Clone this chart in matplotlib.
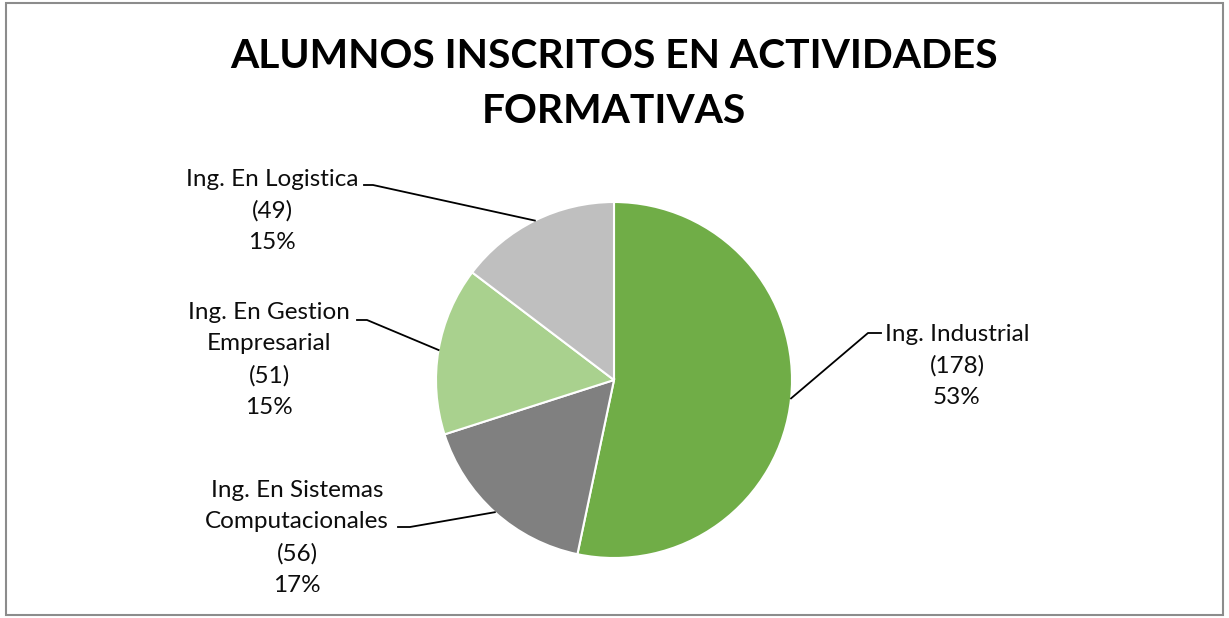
import matplotlib.pyplot as plt
import numpy as np
from matplotlib.patches import Rectangle

carreras = ["Ing. Industrial", "Ing. En Sistemas\nComputacionales",
            "Ing. En Gestion\nEmpresarial", "Ing. En Logistica"]
alumnos = [178, 56, 51, 49]
colores = ["#70AD47", "#808080", "#A9D18E", "#BFBFBF"]

W, H = 1229, 618
CX, CY, R = 614, 380, 178

plt.rcParams["font.family"] = ["Lato", "DejaVu Sans"]

fig = plt.figure(figsize=(W / 100, H / 100), dpi=100)
fig.patch.set_facecolor("white")
fig.add_artist(Rectangle((6 / W, 3 / H), 1217 / W, 612 / H, transform=fig.transFigure,
                         fill=False, edgecolor="#8c8c8c", linewidth=1.5))

ax = fig.add_axes([(CX - R) / W, (H - CY - R) / H, 2 * R / W, 2 * R / H])
wedges, _ = ax.pie(alumnos, colors=colores, startangle=90, counterclock=False, radius=1,
                   wedgeprops=dict(edgecolor="white", linewidth=1.5))
ax.set_xlim(-1, 1)
ax.set_ylim(-1, 1)
ax.set_aspect("equal")
ax.axis("off")


def px(x, y):
    return (x - CX) / R, (CY - y) / R


total = sum(alumnos)
# label centre (pixels) and leader elbow points (pixels)
label_pos = [(957, 366), (297, 538), (269, 360), (272, 211)]
elbows = [((868, 333), (881, 333)), ((410, 527), (398, 527)),
          ((367, 320), (357, 320)), ((373, 185), (364, 185))]

for w, name, n, pos, (e1, e2) in zip(wedges, carreras, alumnos, label_pos, elbows):
    ang = np.deg2rad((w.theta1 + w.theta2) / 2)
    edge = (np.cos(ang), np.sin(ang))
    p1 = px(*e1)
    p2 = px(*e2)
    ax.plot([edge[0], p1[0], p2[0]], [edge[1], p1[1], p2[1]], color="black",
            linewidth=1.3, clip_on=False)
    txt = f"{name}\n({n})\n{round(100 * n / total)}%"
    tx, ty = px(*pos)
    ax.text(tx, ty, txt, ha="center", va="center", fontsize=17.5, linespacing=1.6,
            color="#0d0d0d")

fig.text(614 / W, 1 - 84 / H, "ALUMNOS INSCRITOS EN ACTIVIDADES\nFORMATIVAS",
         ha="center", va="center", fontsize=29.3, fontweight="bold", linespacing=1.6)

fig.savefig("out.png", dpi=100)
